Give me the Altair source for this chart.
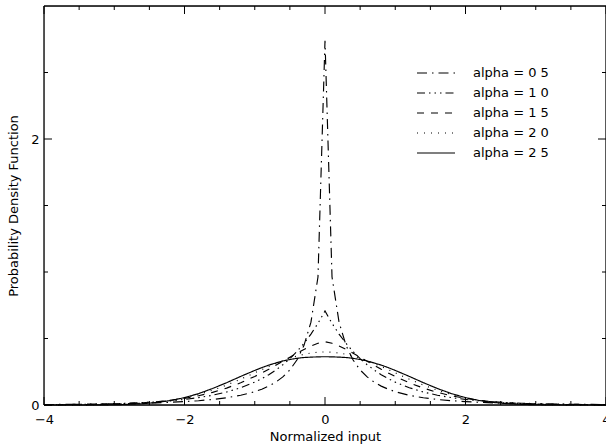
import altair as alt
import pandas as pd

# ---- data ----
x_vals = [-4.0, -3.8, -3.6, -3.4, -3.2, -3.0, -2.8, -2.6, -2.4, -2.2, -2.0, -1.8, -1.6, -1.4, -1.2,
          -1.0, -0.9, -0.8, -0.7, -0.6, -0.5, -0.4, -0.3, -0.2, -0.1, 0.0,
          0.1, 0.2, 0.3, 0.4, 0.5, 0.6, 0.7, 0.8, 0.9, 1.0,
          1.2, 1.4, 1.6, 1.8, 2.0, 2.2, 2.4, 2.6, 2.8, 3.0, 3.2, 3.4, 3.6, 3.8, 4.0]

pdf_a05 = [0.0037, 0.0043, 0.0051, 0.0061, 0.0073, 0.0089, 0.0108, 0.0132, 0.0162, 0.0202, 0.0254,
           0.0323, 0.0416, 0.0546, 0.0729, 0.100, 0.119, 0.142, 0.172, 0.211, 0.264, 0.338, 0.447,
           0.623, 0.962, 2.739, 0.962, 0.623, 0.447, 0.338, 0.264, 0.211, 0.172, 0.142, 0.119, 0.100,
           0.0729, 0.0546, 0.0416, 0.0323, 0.0254, 0.0202, 0.0162, 0.0132, 0.0108, 0.0089, 0.0073,
           0.0061, 0.0051, 0.0043, 0.0037]
pdf_a10 = [0.0025, 0.0033, 0.0043, 0.0058, 0.0077, 0.0102, 0.0135, 0.0179, 0.0237, 0.0315, 0.0418,
           0.0554, 0.0736, 0.0976, 0.130, 0.172, 0.198, 0.228, 0.263, 0.303, 0.349, 0.402, 0.463,
           0.533, 0.614, 0.707, 0.614, 0.533, 0.463, 0.402, 0.349, 0.303, 0.263, 0.228, 0.198, 0.172,
           0.130, 0.0976, 0.0736, 0.0554, 0.0418, 0.0315, 0.0237, 0.0179, 0.0135, 0.0102, 0.0077,
           0.0058, 0.0043, 0.0033, 0.0025]
pdf_a15 = [0.0008, 0.0013, 0.0021, 0.0032, 0.0050, 0.0076, 0.0114, 0.0169, 0.0246, 0.0354, 0.0500,
           0.0695, 0.0949, 0.127, 0.167, 0.215, 0.241, 0.269, 0.299, 0.329, 0.359, 0.389, 0.418,
           0.443, 0.464, 0.476, 0.464, 0.443, 0.418, 0.389, 0.359, 0.329, 0.299, 0.269, 0.241, 0.215,
           0.167, 0.127, 0.0949, 0.0695, 0.0500, 0.0354, 0.0246, 0.0169, 0.0114, 0.0076, 0.0050,
           0.0032, 0.0021, 0.0013, 0.0008]
pdf_a20 = [0.0001, 0.0003, 0.0006, 0.0012, 0.0024, 0.0044, 0.0079, 0.0136, 0.0224, 0.0355, 0.054,
           0.079, 0.111, 0.150, 0.194, 0.242, 0.266, 0.290, 0.312, 0.333, 0.352, 0.368, 0.381,
           0.391, 0.397, 0.399, 0.397, 0.391, 0.381, 0.368, 0.352, 0.333, 0.312, 0.290, 0.266, 0.242,
           0.194, 0.150, 0.111, 0.079, 0.054, 0.0355, 0.0224, 0.0136, 0.0079, 0.0044, 0.0024,
           0.0012, 0.0006, 0.0003, 0.0001]
pdf_a25 = [0.0000, 0.0000, 0.0001, 0.0003, 0.0008, 0.0020, 0.0047, 0.0097, 0.0187, 0.0334, 0.0554,
           0.0856, 0.124, 0.168, 0.215, 0.260, 0.281, 0.300, 0.316, 0.331, 0.342, 0.351, 0.357,
           0.360, 0.362, 0.363, 0.362, 0.360, 0.357, 0.351, 0.342, 0.331, 0.316, 0.300, 0.281, 0.260,
           0.215, 0.168, 0.124, 0.0856, 0.0554, 0.0334, 0.0187, 0.0097, 0.0047, 0.0020, 0.0008,
           0.0003, 0.0001, 0.0000, 0.0000]

series_labels = ["alpha = 0 5", "alpha = 1 0", "alpha = 1 5", "alpha = 2 0", "alpha = 2 5"]
x_major = [-4, -2, 0, 2, 4]
x_minor = [-3.5, -3, -2.5, -1.5, -1, -0.5, 0.5, 1, 1.5, 2.5, 3, 3.5]
y_major = [0, 2]
y_minor = [0.5, 1, 1.5, 2.5]

# ---- styles ----
dash_patterns = [[10, 5, 1.5, 5], [8, 4, 1.5, 4, 1.5, 4, 1.5, 4], [7, 7], [1, 6], [1, 0]]
series_opacity = [1, 1, 1, 0.15, 1]
W, H = 562, 399
FONT = "DejaVu Sans"

all_series = [pdf_a05, pdf_a10, pdf_a15, pdf_a20, pdf_a25]
rows = []
for lab, vals in zip(series_labels, all_series):
    for xv, pv in zip(x_vals, vals):
        rows.append({"x": xv, "pdf": pv, "series": lab})
df = pd.DataFrame(rows)

x_scale = alt.Scale(domain=[-4, 4], nice=False, zero=False)
y_scale = alt.Scale(domain=[0, 3], nice=False, zero=False)
dash_scale = alt.Scale(domain=series_labels, range=dash_patterns)
op_scale = alt.Scale(domain=series_labels, range=series_opacity)

lines = alt.Chart(df).mark_line(color="black", strokeWidth=1.15).encode(
    x=alt.X("x:Q", scale=x_scale,
            axis=alt.Axis(values=x_major, title="Normalized input", ticks=False, tickSize=0,
                          domain=False, grid=False, labelPadding=8, titlePadding=4,
                          labelFlush=False, labelOverlap=False,
                          labelFontSize=13, titleFontSize=13, titleFontWeight="normal",
                          labelFont=FONT, titleFont=FONT, labelColor="black", titleColor="black")),
    y=alt.Y("pdf:Q", scale=y_scale,
            axis=alt.Axis(values=y_major, title="Probability Density Function", ticks=False,
                          tickSize=0, domain=False, grid=False, labelPadding=5, titlePadding=10,
                          labelFlush=False,
                          labelFontSize=13, titleFontSize=13, titleFontWeight="normal",
                          labelFont=FONT, titleFont=FONT, labelColor="black", titleColor="black")),
    strokeDash=alt.StrokeDash("series:N", scale=dash_scale, legend=None),
    opacity=alt.Opacity("series:N", scale=op_scale, legend=None),
)


def x_ticks(vals, length):
    base = alt.Chart(pd.DataFrame({"v": vals}))
    bottom = base.mark_rule(color="black", strokeWidth=1).encode(
        x=alt.X("v:Q", scale=x_scale, axis=None), y=alt.value(H), y2=alt.value(H - length))
    top = base.mark_rule(color="black", strokeWidth=1).encode(
        x=alt.X("v:Q", scale=x_scale, axis=None), y=alt.value(0), y2=alt.value(length))
    return [bottom, top]


def y_ticks(vals, length):
    base = alt.Chart(pd.DataFrame({"v": vals}))
    left = base.mark_rule(color="black", strokeWidth=1).encode(
        y=alt.Y("v:Q", scale=y_scale, axis=None), x=alt.value(0), x2=alt.value(length))
    right = base.mark_rule(color="black", strokeWidth=1).encode(
        y=alt.Y("v:Q", scale=y_scale, axis=None), x=alt.value(W), x2=alt.value(W - length))
    return [left, right]


ticks = x_ticks(x_major, 8) + x_ticks(x_minor, 4) + y_ticks(y_major, 8) + y_ticks(y_minor, 4)

frame_base = alt.Chart(pd.DataFrame({"f": [0]}))
frame = [
    frame_base.mark_rule(color="black", strokeWidth=1.3).encode(
        x=alt.value(0), x2=alt.value(W), y=alt.value(0)),
    frame_base.mark_rule(color="black", strokeWidth=1.3).encode(
        x=alt.value(0), x2=alt.value(W), y=alt.value(H)),
    frame_base.mark_rule(color="black", strokeWidth=1.3).encode(
        x=alt.value(0), y=alt.value(0), y2=alt.value(H)),
    frame_base.mark_rule(color="black", strokeWidth=1.3).encode(
        x=alt.value(W), y=alt.value(0), y2=alt.value(H)),
]

leg_df = pd.DataFrame({"series": series_labels})
leg_y = alt.Y("series:N", axis=None,
              scale=alt.Scale(type="point", domain=series_labels, range=[67, 147], padding=0))
leg_lines = alt.Chart(leg_df).mark_rule(color="black", strokeWidth=1.15).encode(
    y=leg_y, x=alt.value(373), x2=alt.value(411),
    strokeDash=alt.StrokeDash("series:N", scale=dash_scale, legend=None),
    opacity=alt.Opacity("series:N", scale=op_scale, legend=None),
)
leg_text = alt.Chart(leg_df).mark_text(align="left", baseline="middle", font=FONT,
                                       fontSize=13, color="black").encode(
    y=leg_y, x=alt.value(429), text="series:N")

chart = alt.layer(lines, *ticks, *frame, leg_lines, leg_text).resolve_scale(
    x="independent", y="independent"
).properties(
    width=W, height=H,
    padding={"left": 44, "top": 6, "right": 0, "bottom": 39},
    autosize=alt.AutoSizeParams(type="none"),
).configure_view(
    strokeWidth=0
).configure(background="white")

chart.save("out.html", embed_options={"renderer": "svg", "actions": False})
